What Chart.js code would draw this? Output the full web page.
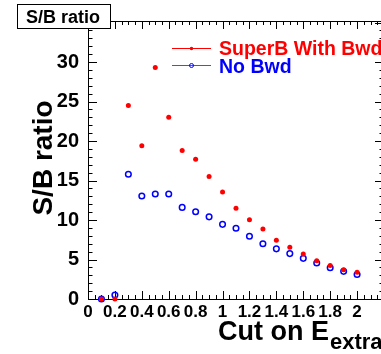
<!DOCTYPE html>
<html>
<head>
<meta charset="utf-8">
<script src="https://cdn.jsdelivr.net/npm/chart.js@4"></script>
<style>
  html, body { margin: 0; padding: 0; background: #fff; width: 381px; height: 354px; overflow: hidden; }
  #wrap { position: absolute; left: 0; top: 0; width: 400px; height: 354px; }
</style>
</head>
<body>
<div id="wrap"><canvas id="c" width="400" height="354"></canvas></div>
<script>
// Cut value on E_extra (GeV)
const cutValues = [0.1, 0.2, 0.3, 0.4, 0.5, 0.6, 0.7, 0.8, 0.9, 1.0,
                   1.1, 1.2, 1.3, 1.4, 1.5, 1.6, 1.7, 1.8, 1.9, 2.0];
// S/B ratio with the backward calorimeter
const withBwd = [0.0, 0.0, 24.5, 19.4, 29.3, 23.0, 18.8, 17.7, 15.5, 13.55,
                 11.5, 10.05, 8.85, 7.45, 6.55, 5.7, 4.85, 4.25, 3.7, 3.4];
// S/B ratio without it
const noBwd = [0.0, 0.5, 15.8, 13.05, 13.3, 13.3, 11.6, 11.05, 10.4, 9.45,
               8.95, 7.95, 7.0, 6.35, 5.75, 5.15, 4.55, 3.95, 3.5, 3.1];

const xTickLabels = ['0', '0.2', '0.4', '0.6', '0.8', '1', '1.2', '1.4', '1.6', '1.8', '2'];
const yTickLabels = ['0', '5', '10', '15', '20', '25', '30'];
const seriesNames = ['SuperB With Bwd', 'No Bwd'];

const FONT = 'Liberation Sans, Arial, Helvetica, sans-serif';
const RED = '#ff0000';
const BLUE = '#0000ff';

function toPoints(ys) {
  return cutValues.map((x, i) => ({ x: x, y: ys[i] }));
}

// Frame, inward ticks on all four sides, pave title, legend and axis titles
const framePlugin = {
  id: 'rootFrame',
  beforeDatasetsDraw(chart) {
    const { ctx, chartArea: a, scales: { x, y } } = chart;
    ctx.save();
    ctx.strokeStyle = '#000';
    ctx.lineWidth = 1;
    ctx.strokeRect(a.left + 0.5, a.top + 0.5, a.right - a.left, a.bottom - a.top);
    ctx.beginPath();
    for (let i = 0; i <= 44; i++) {
      const px = Math.round(x.getPixelForValue(i * 0.05)) + 0.5;
      const len = (i % 4 === 0) ? 8 : 4;
      ctx.moveTo(px, a.bottom); ctx.lineTo(px, a.bottom - len);
      ctx.moveTo(px, a.top); ctx.lineTo(px, a.top + len);
    }
    for (let v = 0; v <= 35; v++) {
      const py = Math.round(y.getPixelForValue(v)) + 0.5;
      const len = (v % 5 === 0) ? 9 : 4.5;
      ctx.moveTo(a.left, py); ctx.lineTo(a.left + len, py);
      ctx.moveTo(a.right, py); ctx.lineTo(a.right - len, py);
    }
    ctx.stroke();
    ctx.restore();
  },
  afterDraw(chart) {
    const { ctx } = chart;
    ctx.save();

    // pave title
    ctx.fillStyle = '#fff';
    ctx.fillRect(17, 4, 94, 25);
    ctx.strokeStyle = '#000';
    ctx.lineWidth = 1;
    ctx.strokeRect(17.5, 4.5, 93, 24);
    ctx.fillStyle = '#000';
    ctx.font = 'bold 18px ' + FONT;
    ctx.textAlign = 'center';
    ctx.textBaseline = 'alphabetic';
    ctx.fillText('S/B ratio', 63, 23);

    // legend
    ctx.lineWidth = 1;
    ctx.strokeStyle = RED;
    ctx.beginPath(); ctx.moveTo(172, 48.5); ctx.lineTo(211, 48.5); ctx.stroke();
    ctx.fillStyle = RED;
    ctx.beginPath(); ctx.arc(191.5, 48.5, 1.8, 0, Math.PI * 2); ctx.fill();
    ctx.strokeStyle = '#4848ff';
    ctx.beginPath(); ctx.moveTo(172, 65.5); ctx.lineTo(211, 65.5); ctx.stroke();
    ctx.strokeStyle = BLUE;
    ctx.beginPath(); ctx.arc(191.5, 65.5, 2, 0, Math.PI * 2); ctx.stroke();

    ctx.font = 'bold 19.5px ' + FONT;
    ctx.textAlign = 'left';
    ctx.fillStyle = RED;
    ctx.fillText(seriesNames[0], 219, 55);
    ctx.fillStyle = BLUE;
    ctx.fillText(seriesNames[1], 219, 72.5);

    // x axis title with subscript
    ctx.fillStyle = '#000';
    ctx.font = 'bold 27px ' + FONT;
    const main = 'Cut on E';
    ctx.fillText(main, 218, 340);
    const w = ctx.measureText(main).width;
    ctx.font = 'bold 22px ' + FONT;
    ctx.fillText('extra', 218 + w + 1, 349);

    // y axis title
    ctx.translate(52, 158);
    ctx.rotate(-Math.PI / 2);
    ctx.font = 'bold 28px ' + FONT;
    ctx.textAlign = 'center';
    ctx.fillText('S/B ratio', 0, 0);

    ctx.restore();
  }
};

new Chart(document.getElementById('c').getContext('2d'), {
  type: 'scatter',
  data: {
    datasets: [
      {
        label: seriesNames[0],
        data: toPoints(withBwd),
        backgroundColor: RED,
        borderColor: RED,
        pointRadius: 2.5,
        pointBorderWidth: 0,
        clip: false
      },
      {
        label: seriesNames[1],
        data: toPoints(noBwd),
        backgroundColor: 'rgba(0,0,0,0)',
        borderColor: BLUE,
        pointRadius: 2.8,
        pointBorderWidth: 1.5,
        clip: false
      }
    ]
  },
  options: {
    responsive: false,
    animation: false,
    devicePixelRatio: 1,
    layout: { padding: { top: 8, right: 16, left: 0, bottom: 0 } },
    plugins: { legend: { display: false }, tooltip: { enabled: false } },
    scales: {
      x: {
        type: 'linear',
        min: 0,
        max: 2.2,
        afterFit(s) { s.height = 55; },
        grid: { display: false, drawTicks: false },
        border: { display: false },
        ticks: {
          stepSize: 0.2,
          padding: 3,
          autoSkip: false,
          maxRotation: 0,
          color: '#000',
          font: { family: FONT, weight: 'bold', size: 17 },
          callback(v) {
            const i = Math.round(v / 0.2);
            return (Math.abs(v - i * 0.2) < 1e-6 && i < xTickLabels.length) ? xTickLabels[i] : '';
          }
        }
      },
      y: {
        type: 'linear',
        min: 0,
        max: 35.2,
        afterFit(s) { s.width = 88; },
        grid: { display: false, drawTicks: false },
        border: { display: false },
        ticks: {
          stepSize: 5,
          padding: 9,
          autoSkip: false,
          color: '#000',
          font: { family: FONT, weight: 'bold', size: 20 },
          callback(v) {
            const i = Math.round(v / 5);
            return (Math.abs(v - i * 5) < 1e-6 && i < yTickLabels.length) ? yTickLabels[i] : '';
          }
        }
      }
    }
  },
  plugins: [framePlugin]
});
</script>
</body>
</html>
